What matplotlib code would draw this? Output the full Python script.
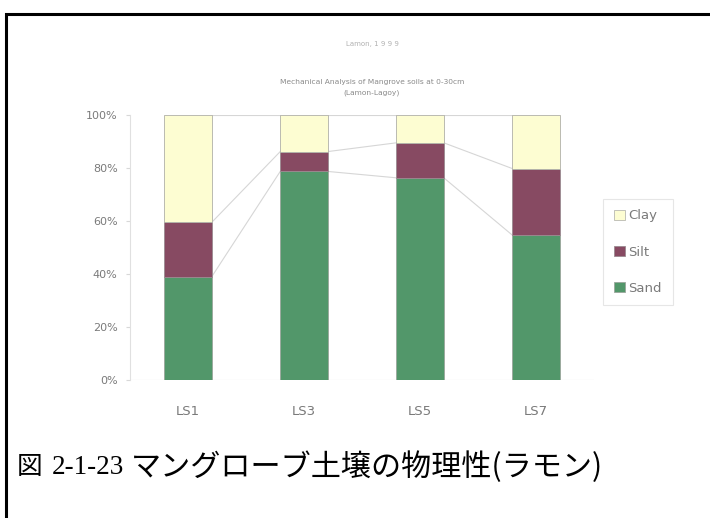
import matplotlib
matplotlib.use("Agg")
import matplotlib.pyplot as plt
from matplotlib.lines import Line2D
from matplotlib.patches import Patch
import numpy as np

# Soil texture fractions (%) at 0-30 cm depth
sites = ["LS1", "LS3", "LS5", "LS7"]
sand = [39.0, 78.7, 76.3, 54.7]
silt = [20.5, 7.5, 13.2, 25.1]
clay = [40.5, 13.8, 10.5, 20.2]

y_ticks = [0, 20, 40, 60, 80, 100]
y_tick_labels = ["0%", "20%", "40%", "60%", "80%", "100%"]

c_sand = "#52976a"
c_silt = "#874a62"
c_clay = "#fdfdd2"
c_text = "#7a7a7a"

W, H, DPI = 710, 518, 100
fig = plt.figure(figsize=(W / DPI, H / DPI), dpi=DPI)
fig.patch.set_facecolor("white")

ax = fig.add_axes([130 / W, 1 - 380 / H, (594 - 130) / W, (380 - 115) / H])
x = np.arange(len(sites))
bw = 0.41

ax.bar(x, sand, bw, color=c_sand, edgecolor="#9aa69c", linewidth=0.6, zorder=3)
ax.bar(x, silt, bw, bottom=sand, color=c_silt, edgecolor="#9a8a90", linewidth=0.6, zorder=3)
bottom_clay = np.array(sand) + np.array(silt)
ax.bar(x, clay, bw, bottom=bottom_clay, color=c_clay, edgecolor="#b0b0a8", linewidth=0.6, zorder=3)

# Series lines joining the segment boundaries of neighbouring bars
levels = [np.zeros(len(sites)), np.array(sand), bottom_clay, bottom_clay + np.array(clay)]
for lev in levels:
    for i in range(len(sites) - 1):
        ax.plot([x[i] + bw / 2, x[i + 1] - bw / 2], [lev[i], lev[i + 1]],
                color="#d6d6d6", linewidth=0.8, zorder=2)
ax.plot([x[-1] + bw / 2, 3.5], [0, 0], color="#d6d6d6", linewidth=0.8, zorder=2)
ax.plot([-0.5, x[0] - bw / 2], [0, 0], color="#d6d6d6", linewidth=0.8, zorder=2)

ax.set_xlim(-0.5, 3.5)
ax.set_ylim(0, 100)
ax.set_yticks(y_ticks)
ax.set_yticklabels(y_tick_labels, fontsize=8, color=c_text, family="DejaVu Sans")
ax.set_xticks(x)
ax.set_xticklabels(sites, fontsize=9.5, color=c_text, family="DejaVu Sans")
ax.tick_params(axis="y", length=3, color="#d8d8d8", pad=6)
ax.tick_params(axis="x", length=0, pad=18)
for s in ["top", "right", "bottom"]:
    ax.spines[s].set_visible(False)
ax.spines["left"].set_color("#e0e0e0")
ax.spines["left"].set_linewidth(0.8)

# Chart title
fig.text(372 / W, 1 - 82 / H, "Mechanical Analysis of Mangrove soils at 0-30cm",
         ha="center", va="center", fontsize=5.4, color="#8a8a8a")
fig.text(372 / W, 1 - 93 / H, "(Lamon-Lagoy)",
         ha="center", va="center", fontsize=5.4, color="#8a8a8a")
fig.text(372 / W, 1 - 44 / H, "Lamon, 1 9 9 9", ha="center", va="center",
         fontsize=5, color="#b0b0b0")

# Legend
handles = [Patch(facecolor=c_clay, edgecolor="#b8b8b0", linewidth=0.6),
           Patch(facecolor=c_silt, edgecolor="#9a8a90", linewidth=0.6),
           Patch(facecolor=c_sand, edgecolor="#9aa69c", linewidth=0.6)]
leg = fig.legend(handles, ["Clay", "Silt", "Sand"],
                 loc="center", bbox_to_anchor=(638 / W, 1 - 252 / H),
                 frameon=True, fancybox=False, fontsize=9.5,
                 labelcolor=c_text, handlelength=0.8, handleheight=0.8,
                 handletextpad=0.3, labelspacing=1.75, borderpad=0.8)
leg.get_frame().set_edgecolor("#e0e0e0")
leg.get_frame().set_linewidth(0.8)

# Figure caption
cap_y = 1 - 467 / H
fig.text(17 / W, cap_y, "図", ha="left", va="center", fontsize=18.5,
         color="black", family=["Noto Sans CJK JP"])
fig.text(52 / W, cap_y, "2-1-23", ha="left", va="center", fontsize=19.5,
         color="black", family=["Liberation Serif"])
fig.text(131 / W, cap_y, "マングローブ土壌の物理性(ラモン)", ha="left", va="center",
         fontsize=21.7, color="black", family=["Noto Sans CJK JP"])

# Page frame
fig.add_artist(Line2D([6 / W, 6 / W, 1.0], [0.0, 1 - 14 / H, 1 - 14 / H],
                      transform=fig.transFigure, color="black", linewidth=2.2,
                      solid_joinstyle="miter"))

fig.savefig("out.png", dpi=DPI)
